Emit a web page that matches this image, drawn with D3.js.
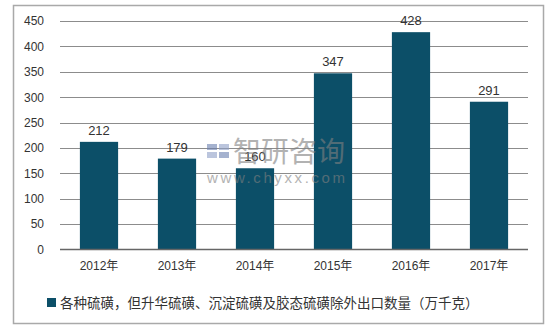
<!DOCTYPE html>
<html>
<head>
<meta charset="utf-8">
<script src="https://cdn.jsdelivr.net/npm/d3@7"></script>
<style>
  body { margin: 0; background: #fff; }
  svg text { font-family: "Liberation Sans", Arial, "Noto Sans CJK SC", sans-serif; }
</style>
</head>
<body>
<div id="chart"></div>
<script>
const years = ["2012年", "2013年", "2014年", "2015年", "2016年", "2017年"];
const exports = [212, 179, 160, 347, 428, 291];
const yTicks = [0, 50, 100, 150, 200, 250, 300, 350, 400, 450];
const seriesName = "各种硫磺，但升华硫磺、沉淀硫磺及胶态硫磺除外出口数量（万千克）";

const barColor = "#0c4f68";
const width = 552, height = 330;

const svg = d3.select("#chart").append("svg")
  .attr("width", width)
  .attr("height", height);

// outer frame
svg.append("rect")
  .attr("x", 13.5).attr("y", 5.5)
  .attr("width", 530).attr("height", 318)
  .attr("fill", "none")
  .attr("stroke", "#a9a9a9")
  .attr("stroke-width", 1.5);

const x = d3.scaleBand().domain(years).range([60, 528]).paddingInner(0.51).paddingOuter(0.255);
const y = d3.scaleLinear().domain([0, 450]).range([249.5, 21]);

// gridlines
svg.append("g")
  .selectAll("line")
  .data(yTicks.filter(d => d > 0))
  .enter().append("line")
  .attr("x1", 60).attr("x2", 528)
  .attr("y1", d => Math.round(y(d)) + 0.5)
  .attr("y2", d => Math.round(y(d)) + 0.5)
  .attr("stroke", "#8c8c8c")
  .attr("stroke-width", 1);

// y axis labels
const yAxis = svg.append("g")
  .attr("transform", "translate(60,0)")
  .call(d3.axisLeft(y).tickValues(yTicks).tickSize(0).tickPadding(16));
yAxis.select(".domain").remove();
yAxis.selectAll("text").attr("font-size", 12).attr("fill", "#333");

// bars
svg.append("g")
  .selectAll("rect")
  .data(exports)
  .enter().append("rect")
  .attr("x", (d, i) => x(years[i]))
  .attr("y", d => y(d))
  .attr("width", x.bandwidth())
  .attr("height", d => y(0) - y(d))
  .attr("fill", barColor);

// bar value labels
svg.append("g")
  .selectAll("text")
  .data(exports)
  .enter().append("text")
  .attr("x", (d, i) => x(years[i]) + x.bandwidth() / 2)
  .attr("y", d => y(d) - 7)
  .attr("text-anchor", "middle")
  .attr("font-size", 13)
  .attr("fill", "#333")
  .text(d => d);

// x axis
const xAxis = svg.append("g")
  .attr("transform", "translate(0," + y(0) + ")")
  .call(d3.axisBottom(x).tickSize(0).tickPadding(12));
xAxis.select(".domain").attr("stroke", "#666").attr("stroke-width", 1.5).attr("d", "M60,0H528");
xAxis.selectAll("text").attr("font-size", 12).attr("fill", "#333");

// legend
const legend = svg.append("g").attr("transform", "translate(47,303)");
legend.append("rect")
  .attr("x", 0).attr("y", -5).attr("width", 9).attr("height", 9)
  .attr("fill", barColor);
legend.append("text")
  .attr("x", 13).attr("y", 0)
  .attr("dy", "0.35em")
  .attr("font-size", 13.5)
  .attr("fill", "#333")
  .text(seriesName);

// watermark
const wm = svg.append("g").attr("opacity", 0.6);
wm.append("rect").attr("x", 207).attr("y", 144).attr("width", 10).attr("height", 6).attr("fill", "#6b7fb0");
wm.append("rect").attr("x", 219).attr("y", 144).attr("width", 10).attr("height", 6).attr("fill", "#8fa0c8");
wm.append("rect").attr("x", 207).attr("y", 152).attr("width", 10).attr("height", 6).attr("fill", "#8fa0c8");
wm.append("rect").attr("x", 219).attr("y", 152).attr("width", 10).attr("height", 6).attr("fill", "#6b7fb0");
wm.append("text")
  .attr("x", 233).attr("y", 162)
  .attr("font-size", 28)
  .attr("fill", "#808080")
  .style("font-family", "'Noto Sans CJK SC', sans-serif")
  .text("智研咨询");
wm.append("text")
  .attr("x", 207).attr("y", 183)
  .attr("font-size", 15)
  .attr("fill", "#808080")
  .attr("textLength", 138)
  .text("www.chyxx.com");
</script>
</body>
</html>
